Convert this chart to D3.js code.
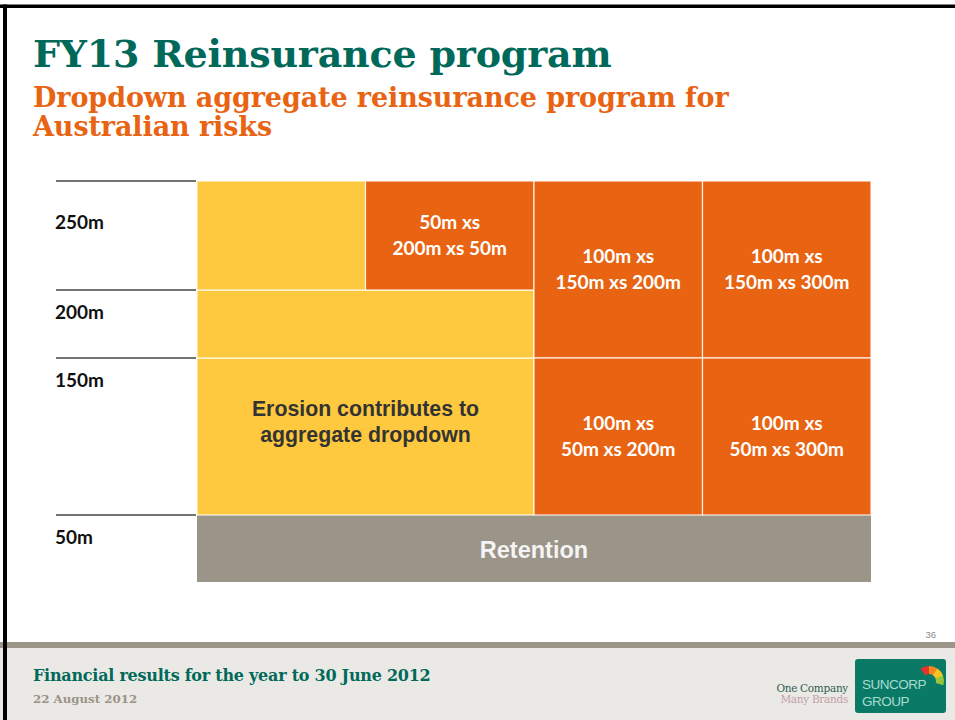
<!DOCTYPE html>
<html>
<head>
<meta charset="utf-8">
<script src="https://cdn.jsdelivr.net/npm/d3@7"></script>
<style>
  html, body { margin: 0; padding: 0; background: #fff; }
  svg { display: block; }
</style>
</head>
<body>
<div id="chart"></div>
<script>
// ---------- data ----------
const title = "FY13 Reinsurance program";
const subtitleLines = ["Dropdown aggregate reinsurance program for", "Australian risks"];

// layer boundaries (in $m) used by the vertical scale
const layerBreaks = [0, 50, 150, 200, 250];

// axis ticks on the left
const tickValues = [250, 200, 150, 50];
const tickLabels = ["250m", "200m", "150m", "50m"];

// blocks of the program
const blockKinds   = ["retention", "erosion", "erosion", "erosion", "layer", "layer", "layer", "layer", "layer"];
const blockBottoms = [0,   50, 150, 200, 200, 150, 150, 50,  50];
const blockTops    = [50, 150, 200, 250, 250, 250, 250, 150, 150];
const blockColFrom = [0,   0,   0,   0,   1,   2,   3,   2,   3];
const blockColTo   = [4,   2,   2,   1,   2,   3,   4,   3,   4];
const blockLabels  = [
  ["Retention"],
  ["Erosion contributes to", "aggregate dropdown"],
  [],
  [],
  ["50m xs", "200m xs 50m"],
  ["100m xs", "150m xs 200m"],
  ["100m xs", "150m xs 300m"],
  ["100m xs", "50m xs 200m"],
  ["100m xs", "50m xs 300m"]
];
const columnCount = 4;

const footerTitle = "Financial results for the year to 30 June 2012";
const footerDate = "22 August 2012";
const pageNumber = "36";

// ---------- drawing ----------
const W = 955, H = 720;
const svg = d3.select("#chart").append("svg").attr("width", W).attr("height", H);

const teal = "#00695a", orange = "#e86413", yellow = "#fec93e", grey = "#9b9488";

svg.append("rect").attr("width", W).attr("height", H).attr("fill", "#fff");

// footer background
svg.append("rect").attr("x", 0).attr("y", 648).attr("width", W).attr("height", H - 648).attr("fill", "#ebe9e5");
svg.append("rect").attr("x", 0).attr("y", 642).attr("width", W).attr("height", 6).attr("fill", grey);

// slide border (top and left)
svg.append("rect").attr("x", 0).attr("y", 4.5).attr("width", W).attr("height", 3.5).attr("fill", "#000");
svg.append("rect").attr("x", 3).attr("y", 4.5).attr("width", 4).attr("height", H).attr("fill", "#000");

// titles
svg.append("text").attr("x", 33).attr("y", 67)
  .attr("font-family", "'DejaVu Serif', serif").attr("font-weight", "bold")
  .attr("font-size", 38).attr("fill", teal).attr("letter-spacing", -0.2)
  .text(title);

svg.append("g").selectAll("text").data(subtitleLines).join("text")
  .attr("x", 33).attr("y", (d, i) => 107 + i * 29)
  .attr("font-family", "'DejaVu Serif', serif").attr("font-weight", "bold")
  .attr("font-size", 27).attr("fill", orange).attr("letter-spacing", -0.1)
  .text(d => d);

// scales
const y = d3.scaleLinear().domain(layerBreaks).range([582, 515, 358, 290, 181]);
const x = d3.scaleLinear().domain([0, columnCount]).range([197, 871]);
const color = d3.scaleOrdinal().domain(["retention", "erosion", "layer"]).range([grey, yellow, orange]);
const textColor = d3.scaleOrdinal().domain(["retention", "erosion", "layer"]).range(["#f4f4f4", "#333333", "#ffffff"]);

// left axis lines + labels
const axisG = svg.append("g");
axisG.selectAll("line").data(tickValues).join("line")
  .attr("x1", 56).attr("x2", x(0) - 1)
  .attr("y1", d => y(d)).attr("y2", d => y(d))
  .attr("stroke", "#444").attr("stroke-width", 1.3);
axisG.selectAll("text").data(tickValues).join("text")
  .attr("x", 55)
  .attr("y", (d, i) => y(d) + (i === 0 ? 48 : 29))
  .attr("font-family", "Lato, 'Open Sans', sans-serif").attr("font-weight", "bold")
  .attr("font-size", 19).attr("fill", "#111")
  .text((d, i) => tickLabels[i]);

// blocks
const blocks = blockKinds.map((k, i) => ({
  kind: k, b: blockBottoms[i], t: blockTops[i], c0: blockColFrom[i], c1: blockColTo[i], lines: blockLabels[i]
}));

const bg = svg.append("g");
bg.selectAll("rect").data(blocks).join("rect")
  .attr("x", d => x(d.c0))
  .attr("y", d => y(d.t))
  .attr("width", d => x(d.c1) - x(d.c0))
  .attr("height", d => y(d.b) - y(d.t))
  .attr("fill", d => color(d.kind))
  .attr("stroke", d => d.kind === "retention" ? "none" : "#ffffff")
  .attr("stroke-opacity", 0.85)
  .attr("stroke-width", 1.2);

const lg = svg.append("g");
blocks.forEach(d => {
  if (!d.lines.length) return;
  const cx = (x(d.c0) + x(d.c1)) / 2;
  let cy = (y(d.b) + y(d.t)) / 2;
  let fam, size, lh;
  if (d.kind === "layer") { fam = "Lato, sans-serif"; size = 19; lh = 25.5; }
  else if (d.kind === "erosion") { fam = "'Liberation Sans', Arial, sans-serif"; size = 21.3; lh = 26; cy -= 15; }
  else { fam = "'Liberation Sans', Arial, sans-serif"; size = 23.5; lh = 26; cy += 1; }
  const n = d.lines.length;
  lg.append("g").selectAll("text").data(d.lines).join("text")
    .attr("x", cx)
    .attr("y", (t, i) => cy + (i - (n - 1) / 2) * lh)
    .attr("dy", "0.35em")
    .attr("text-anchor", "middle")
    .attr("font-family", fam).attr("font-weight", "bold")
    .attr("font-size", size).attr("fill", textColor(d.kind))
    .text(t => t);
});

// page number
svg.append("text").attr("x", 936).attr("y", 638).attr("text-anchor", "end")
  .attr("font-family", "'Liberation Sans', Arial, sans-serif").attr("font-size", 9.5)
  .attr("fill", "#8a8a8a").text(pageNumber);

// footer texts
svg.append("text").attr("x", 33).attr("y", 681)
  .attr("font-family", "'DejaVu Serif', serif").attr("font-weight", "bold")
  .attr("font-size", 16).attr("fill", teal).attr("letter-spacing", -0.25)
  .text(footerTitle);
svg.append("text").attr("x", 33).attr("y", 703)
  .attr("font-family", "'DejaVu Serif', serif").attr("font-weight", "bold")
  .attr("font-size", 11.8).attr("fill", "#9b9488")
  .text(footerDate);

// logo
const logo = svg.append("g");
logo.append("text").attr("x", 848).attr("y", 692).attr("text-anchor", "end")
  .attr("font-family", "'DejaVu Serif', serif").attr("font-size", 10.5).attr("fill", "#2f5f50")
  .attr("letter-spacing", -0.3).text("One Company");
logo.append("text").attr("x", 848).attr("y", 703).attr("text-anchor", "end")
  .attr("font-family", "'DejaVu Serif', serif").attr("font-size", 10.5).attr("fill", "#c0a0a8")
  .attr("letter-spacing", -0.3).text("Many Brands");
logo.append("rect").attr("x", 855).attr("y", 659).attr("width", 91).attr("height", 54).attr("rx", 3)
  .attr("fill", "#0a7a66");
logo.append("text").attr("x", 862).attr("y", 689)
  .attr("font-family", "'Liberation Sans', Arial, sans-serif").attr("font-size", 13.5).attr("fill", "#a8dcd0")
  .attr("letter-spacing", -0.5).text("SUNCORP");
logo.append("text").attr("x", 862).attr("y", 706)
  .attr("font-family", "'Liberation Sans', Arial, sans-serif").attr("font-size", 13.5).attr("fill", "#a8dcd0")
  .attr("letter-spacing", -0.5).text("GROUP");
const arcGen = d3.arc();
const arcColors = ["#e8332a", "#f08a1c", "#f7c424", "#9ac43c"];
arcColors.forEach((c, i) => {
  logo.append("path")
    .attr("transform", "translate(929,681)")
    .attr("d", arcGen({ innerRadius: 7, outerRadius: 15, startAngle: -0.6 + i * 0.6, endAngle: 0.05 + i * 0.6 }))
    .attr("fill", c);
});
</script>
</body>
</html>
